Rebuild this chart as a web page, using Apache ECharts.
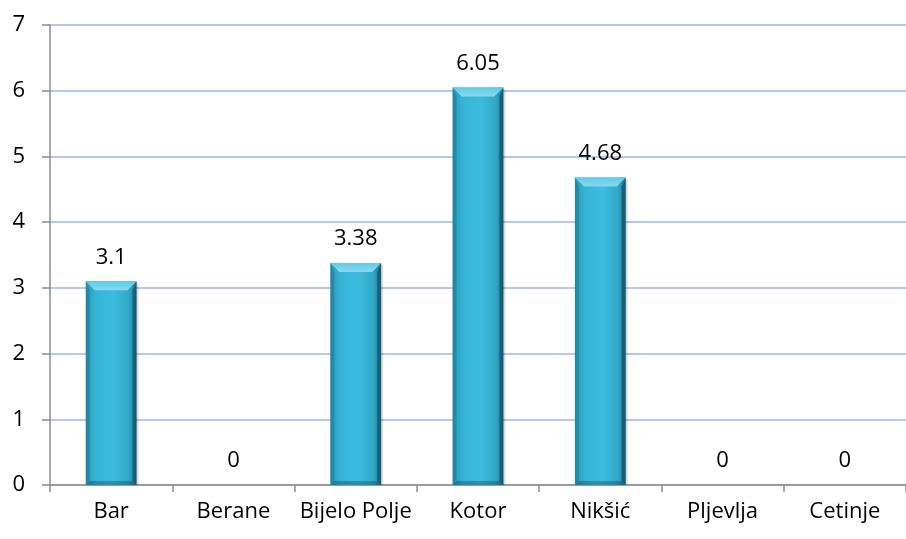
<!DOCTYPE html>
<html>
<head>
<meta charset="utf-8">
<script src="https://cdn.jsdelivr.net/npm/echarts@6/dist/echarts.min.js"></script>
<style>
  html, body { margin: 0; padding: 0; background: #fff; }
  #chart { width: 906px; height: 539px; }
</style>
</head>
<body>
<div id="chart"></div>
<script>
// Towns and their values
const cities = ['Bar', 'Berane', 'Bijelo Polje', 'Kotor', 'Nikšić', 'Pljevlja', 'Cetinje'];
const values = [3.1, 0, 3.38, 6.05, 4.68, 0, 0];
const yTicks = [0, 1, 2, 3, 4, 5, 6, 7];

const chart = echarts.init(document.getElementById('chart'));
const FONT = '"Open Sans", "Liberation Sans", sans-serif';

// Beveled column drawn from the axis coordinates
function renderBevelBar(params, api) {
  const idx = api.value(0);
  const v = api.value(1);
  if (!v) return null;
  const top = api.coord([idx, v]);
  const base = api.coord([idx, 0]);
  const bandW = api.size([1, 0])[0];
  const w = bandW * 0.415;
  const x0 = top[0] - w / 2, x1 = top[0] + w / 2;
  const y0 = top[1], y1 = base[1];
  const b = 9; // bevel depth
  const s = 4; // side bevel width
  const body = new echarts.graphic.LinearGradient(0, 0, 1, 0, [
    { offset: 0, color: '#2A97B6' },
    { offset: 0.2, color: '#36B4D6' },
    { offset: 0.55, color: '#3BBDDF' },
    { offset: 0.85, color: '#31A8C8' },
    { offset: 1, color: '#1F7690' }
  ]);
  return {
    type: 'group',
    children: [
      { type: 'rect', shape: { x: x0 + 2, y: y0 + 2, width: w, height: y1 - y0 - 2 },
        style: { fill: 'rgba(0,0,0,0.15)' } },
      { type: 'rect', shape: { x: x0, y: y0, width: w, height: y1 - y0 },
        style: { fill: body } },
      // top bevel
      { type: 'polygon', shape: { points: [[x0, y0], [x1, y0], [x1 - b, y0 + b], [x0 + b, y0 + b]] },
        style: { fill: new echarts.graphic.LinearGradient(0, 0, 0, 1, [
          { offset: 0, color: '#5FCBE8' }, { offset: 1, color: '#86DAF0' }]) } },
      // left bevel
      { type: 'polygon', shape: { points: [[x0, y0], [x0 + s, y0 + b], [x0 + s, y1 - s], [x0, y1]] },
        style: { fill: 'rgba(20,100,125,0.35)' } },
      // right bevel
      { type: 'polygon', shape: { points: [[x1, y0], [x1 - s, y0 + b], [x1 - s, y1 - s], [x1, y1]] },
        style: { fill: 'rgba(10,60,80,0.5)' } },
      // bottom bevel
      { type: 'polygon', shape: { points: [[x0, y1], [x0 + s, y1 - s], [x1 - s, y1 - s], [x1, y1]] },
        style: { fill: 'rgba(10,60,80,0.35)' } }
    ]
  };
}

chart.setOption({
  animation: false,
  grid: { left: 50, top: 25, width: 863, height: 460, containLabel: false },
  xAxis: {
    type: 'category',
    data: cities,
    axisLine: { lineStyle: { color: '#8C8C8C', width: 1.5 } },
    axisTick: { show: true, alignWithLabel: false, length: 7, lineStyle: { color: '#8C8C8C', width: 1.5 } },
    axisLabel: { color: '#000', fontSize: 22, fontFamily: FONT, margin: 16, interval: 0 }
  },
  yAxis: {
    type: 'value',
    min: 0, max: 7, interval: 1,
    axisLine: { show: true, lineStyle: { color: '#8C8C8C', width: 1.5 } },
    axisTick: { show: true, length: 8, lineStyle: { color: '#8C8C8C', width: 1.5 } },
    axisLabel: { color: '#000', fontSize: 22, fontFamily: FONT, margin: 25,
      formatter: v => yTicks.includes(v) ? String(v) : '' },
    splitLine: { lineStyle: { color: '#B6C9EC', width: 2 } }
  },
  series: [
    {
      type: 'custom',
      renderItem: renderBevelBar,
      data: values.map((v, i) => [i, v]),
      encode: { x: 0, y: 1 },
      z: 3
    },
    {
      // value labels above each column
      type: 'bar',
      data: values,
      barWidth: '41.5%',
      itemStyle: { color: 'rgba(0,0,0,0)' },
      label: {
        show: true, position: 'top', distance: 13,
        formatter: p => String(p.value),
        color: '#000', fontSize: 22, fontFamily: FONT
      },
      z: 4
    }
  ]
});
</script>
</body>
</html>
